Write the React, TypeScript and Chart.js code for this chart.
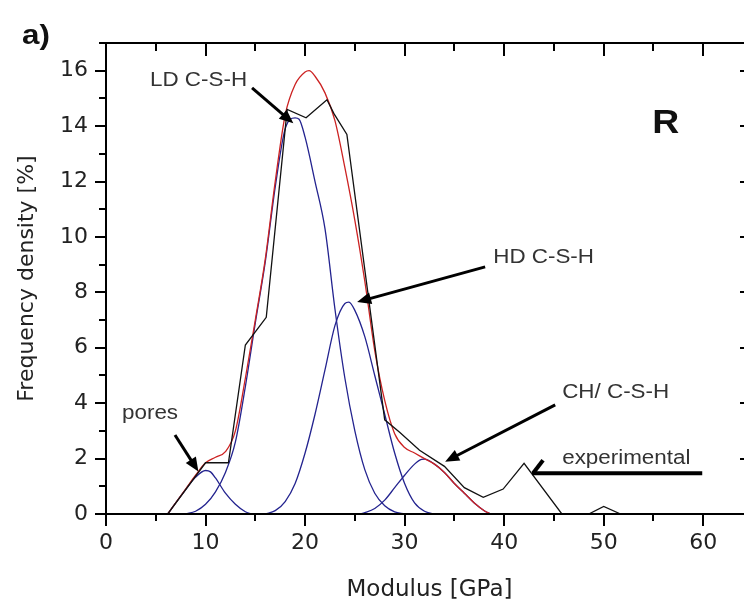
import React, { useEffect, useRef } from "react";
import { Chart, registerables } from "chart.js";
Chart.register(...registerables);

// ---- axis ticks ----
const xTicks = [0, 10, 20, 30, 40, 50, 60];
const xMinorTicks = [5, 15, 25, 35, 45, 55, 65];
const yTicks = [0, 2, 4, 6, 8, 10, 12, 14, 16];
const yMinorTicks = [1, 3, 5, 7, 9, 11, 13, 15, 17];

// ---- experimental (black) ----
const expX = [6.2, 10.0, 12.3, 14.0, 16.1, 18.2, 20.1, 22.2, 22.9, 24.2, 28.0, 29.5, 31.5, 34.0, 36.0, 37.9, 39.9, 42.0, 45.8, 48.5, 50.0, 51.7];
const expY = [0, 1.85, 1.85, 6.1, 7.1, 14.6, 14.3, 14.95, 14.45, 13.7, 3.4, 2.95, 2.3, 1.72, 0.95, 0.6, 0.9, 1.83, 0, 0, 0.27, 0];

// ---- cumulative fit (red) ----
const fitX = [6.2, 7, 8, 9, 10, 11, 12, 13, 14, 15, 16, 17, 18, 19, 20, 20.4, 21, 22, 23, 24, 25, 26, 27, 28, 29, 30, 31, 32, 33, 34, 35, 36, 37, 38, 38.6];
const fitY = [0, 0.4, 0.9, 1.4, 1.85, 2.05, 2.25, 3.0, 4.9, 7.0, 9.2, 12.0, 14.4, 15.5, 15.95, 16.0, 15.8, 15.2, 14.2, 12.5, 10.6, 8.4, 5.9, 4.1, 2.9, 2.4, 2.2, 2.0, 1.8, 1.5, 1.1, 0.75, 0.4, 0.12, 0];

// ---- deconvoluted phases (blue) ----
const poresX = [6.2, 7, 8, 9, 10, 10.5, 11, 12, 13, 14, 14.6];
const poresY = [0, 0.4, 0.88, 1.33, 1.57, 1.52, 1.3, 0.75, 0.35, 0.08, 0];
const ldX = [8, 9, 10, 11, 12, 13, 14, 15, 16, 17, 18, 19, 19.4, 20, 21, 22, 23, 24, 25, 26, 27, 28, 29, 30];
const ldY = [0, 0.1, 0.35, 0.8, 1.5, 2.6, 4.6, 6.9, 9.1, 11.8, 13.9, 14.3, 14.25, 13.6, 12.0, 10.3, 7.4, 4.9, 3.0, 1.6, 0.75, 0.3, 0.08, 0];
const hdX = [16, 17, 18, 19, 20, 21, 22, 23, 24, 24.4, 25, 26, 27, 28, 29, 30, 31, 32, 33];
const hdY = [0, 0.12, 0.45, 1.1, 2.2, 3.6, 5.2, 6.8, 7.6, 7.65, 7.35, 6.4, 5.0, 3.6, 2.2, 1.1, 0.4, 0.1, 0];
const chX = [25.5, 26, 27, 28, 29, 30, 31, 31.7, 32, 33, 34, 35, 36, 37, 38, 38.6];
const chY = [0, 0.05, 0.2, 0.5, 0.95, 1.4, 1.8, 1.97, 1.98, 1.8, 1.5, 1.1, 0.75, 0.4, 0.12, 0];

// ---- annotations (data coordinates) ----
const annLabels = ["LD C-S-H", "HD C-S-H", "CH/ C-S-H", "pores", "experimental"];
const annX = [4.42, 38.9, 45.83, 1.61, 45.83];
const annY = [15.45, 9.06, 4.19, 3.43, 1.8];
const arrowFromX = [14.67, 38.09, 45.13, 6.93, 59.9];
const arrowFromY = [15.38, 8.92, 3.94, 2.85, 1.47];
const arrowToX = [18.82, 25.23, 34.07, 9.28, 42.8];
const arrowToY = [14.1, 7.65, 1.89, 1.53, 1.47];
const panelLabel = "a)";
const panelPos = [-8.44, 16.97];
const sampleLabel = "R";
const samplePos = [54.87, 13.75];

const zip = (xs: number[], ys: number[]) => xs.map((x, i) => ({ x, y: ys[i] }));

function stretchText(ctx: CanvasRenderingContext2D, text: string, x: number, y: number, font: string, sx: number, color: string) {
  ctx.save();
  ctx.font = font;
  ctx.fillStyle = color;
  ctx.textAlign = "left";
  ctx.textBaseline = "alphabetic";
  ctx.translate(x, y);
  ctx.scale(sx, 1);
  ctx.fillText(text, 0, 0);
  ctx.restore();
}

const framePlugin = {
  id: "frameTicks",
  afterDraw(chart: any) {
    const { ctx, chartArea } = chart;
    const { left, right, top, bottom } = chartArea;
    const xs = chart.scales.x;
    const ys = chart.scales.y;
    ctx.save();
    ctx.strokeStyle = "#000";
    ctx.lineWidth = 2;
    ctx.strokeRect(left, top, right - left, bottom - top);
    ctx.beginPath();
    xTicks.forEach((v) => {
      const p = Math.round(xs.getPixelForValue(v));
      ctx.moveTo(p, bottom); ctx.lineTo(p, bottom + 12);
      ctx.moveTo(p, top); ctx.lineTo(p, top + 13);
    });
    xMinorTicks.forEach((v) => {
      const p = Math.round(xs.getPixelForValue(v));
      ctx.moveTo(p, bottom); ctx.lineTo(p, bottom + 7);
      ctx.moveTo(p, top); ctx.lineTo(p, top + 8);
    });
    yTicks.forEach((v) => {
      const p = Math.round(ys.getPixelForValue(v));
      ctx.moveTo(left, p); ctx.lineTo(left - 11, p);
      ctx.moveTo(right, p); ctx.lineTo(right - 13, p);
    });
    yMinorTicks.forEach((v) => {
      const p = Math.round(ys.getPixelForValue(v));
      ctx.moveTo(left, p); ctx.lineTo(left - 7, p);
      ctx.moveTo(right, p); ctx.lineTo(right - 8, p);
    });
    ctx.stroke();
    ctx.restore();

    // annotations
    const textColor = "#333";
    const font = '20px "Liberation Sans", Arial, sans-serif';
    annLabels.forEach((t, i) => {
      stretchText(ctx, t, xs.getPixelForValue(annX[i]), ys.getPixelForValue(annY[i]), font, 1.12, textColor);
    });
    ctx.save();
    ctx.strokeStyle = "#000";
    ctx.fillStyle = "#000";
    ctx.lineCap = "butt";
    arrowFromX.forEach((_, i) => {
      const x1 = xs.getPixelForValue(arrowFromX[i]);
      const y1 = ys.getPixelForValue(arrowFromY[i]);
      const x2 = xs.getPixelForValue(arrowToX[i]);
      const y2 = ys.getPixelForValue(arrowToY[i]);
      const ang = Math.atan2(y2 - y1, x2 - x1);
      const isExp = i === 4;
      const headLen = isExp ? 0 : 14;
      const headW = 6;
      ctx.lineWidth = isExp ? 4 : 3;
      ctx.beginPath();
      ctx.moveTo(x1, y1);
      ctx.lineTo(x2 - Math.cos(ang) * headLen * 0.8, y2 - Math.sin(ang) * headLen * 0.8);
      ctx.stroke();
      if (!isExp) {
        const bx = x2 - Math.cos(ang) * headLen;
        const by = y2 - Math.sin(ang) * headLen;
        ctx.beginPath();
        ctx.moveTo(x2, y2);
        ctx.lineTo(bx + Math.sin(ang) * headW, by - Math.cos(ang) * headW);
        ctx.lineTo(bx - Math.sin(ang) * headW, by + Math.cos(ang) * headW);
        ctx.closePath();
        ctx.fill();
      } else {
        ctx.lineWidth = 4;
        ctx.beginPath();
        ctx.moveTo(x2 + 1, y2);
        ctx.lineTo(x2 + 11, y2 - 13);
        ctx.stroke();
      }
    });
    ctx.restore();

    stretchText(ctx, panelLabel, xs.getPixelForValue(panelPos[0]), ys.getPixelForValue(panelPos[1]), 'bold 28px "Liberation Sans", Arial, sans-serif', 1.12, "#111");
    stretchText(ctx, sampleLabel, xs.getPixelForValue(samplePos[0]), ys.getPixelForValue(samplePos[1]), 'bold 34px "Liberation Sans", Arial, sans-serif', 1.1, "#111");
  },
};

export default function App() {
  const ref = useRef<HTMLCanvasElement | null>(null);
  useEffect(() => {
    if (!ref.current) return;
    const blue = "#23238f";
    const lineCommon = { pointRadius: 0, fill: false, borderWidth: 1.3 };
    const chart = new Chart(ref.current, {
      type: "line",
      data: {
        datasets: [
          { ...lineCommon, label: "experimental", data: zip(expX, expY), borderColor: "#111", tension: 0 },
          { ...lineCommon, label: "fit", data: zip(fitX, fitY), borderColor: "#cc2222", cubicInterpolationMode: "monotone" },
          { ...lineCommon, label: "pores", data: zip(poresX, poresY), borderColor: blue, cubicInterpolationMode: "monotone" },
          { ...lineCommon, label: "LD C-S-H", data: zip(ldX, ldY), borderColor: blue, cubicInterpolationMode: "monotone" },
          { ...lineCommon, label: "HD C-S-H", data: zip(hdX, hdY), borderColor: blue, cubicInterpolationMode: "monotone" },
          { ...lineCommon, label: "CH/ C-S-H", data: zip(chX, chY), borderColor: blue, cubicInterpolationMode: "monotone" },
        ] as any,
      },
      options: {
        responsive: false,
        devicePixelRatio: 1,
        animation: false,
        layout: { padding: { left: 0, right: 17, top: 43, bottom: 0 } },
        plugins: { legend: { display: false }, tooltip: { enabled: false } },
        scales: {
          x: {
            type: "linear",
            min: 0,
            max: 65,
            grid: { display: false, drawTicks: false },
            border: { display: false },
            afterBuildTicks: (s: any) => { s.ticks = xTicks.map((v) => ({ value: v })); },
            afterFit: (s: any) => { s.height = 90; },
            ticks: { autoSkip: false, maxRotation: 0, padding: 16, color: "#222", font: { family: '"DejaVu Sans", sans-serif', size: 22 } },
            title: { display: true, text: "Modulus [GPa]", color: "#222", padding: { top: 0, bottom: 0 }, font: { family: '"DejaVu Sans", sans-serif', size: 23 } },
          },
          y: {
            type: "linear",
            min: 0,
            max: 17,
            grid: { display: false, drawTicks: false },
            border: { display: false },
            afterBuildTicks: (s: any) => { s.ticks = yTicks.map((v) => ({ value: v })); },
            afterFit: (s: any) => { s.width = 106; },
            ticks: { autoSkip: false, padding: 18, color: "#222", font: { family: '"DejaVu Sans", sans-serif', size: 22 } },
            title: { display: true, text: "Frequency density [%]", color: "#222", padding: { top: 14, bottom: 0 }, font: { family: '"DejaVu Sans", sans-serif', size: 22 } },
          },
        },
      } as any,
      plugins: [framePlugin],
    });
    return () => chart.destroy();
  }, []);
  return (
    <div style={{ position: "absolute", left: 0, top: 0, width: 744, height: 604, overflow: "hidden", background: "#fff" }}>
      <canvas ref={ref} width={770} height={604} style={{ width: "770px", height: "604px", display: "block" }} />
    </div>
  );
}
